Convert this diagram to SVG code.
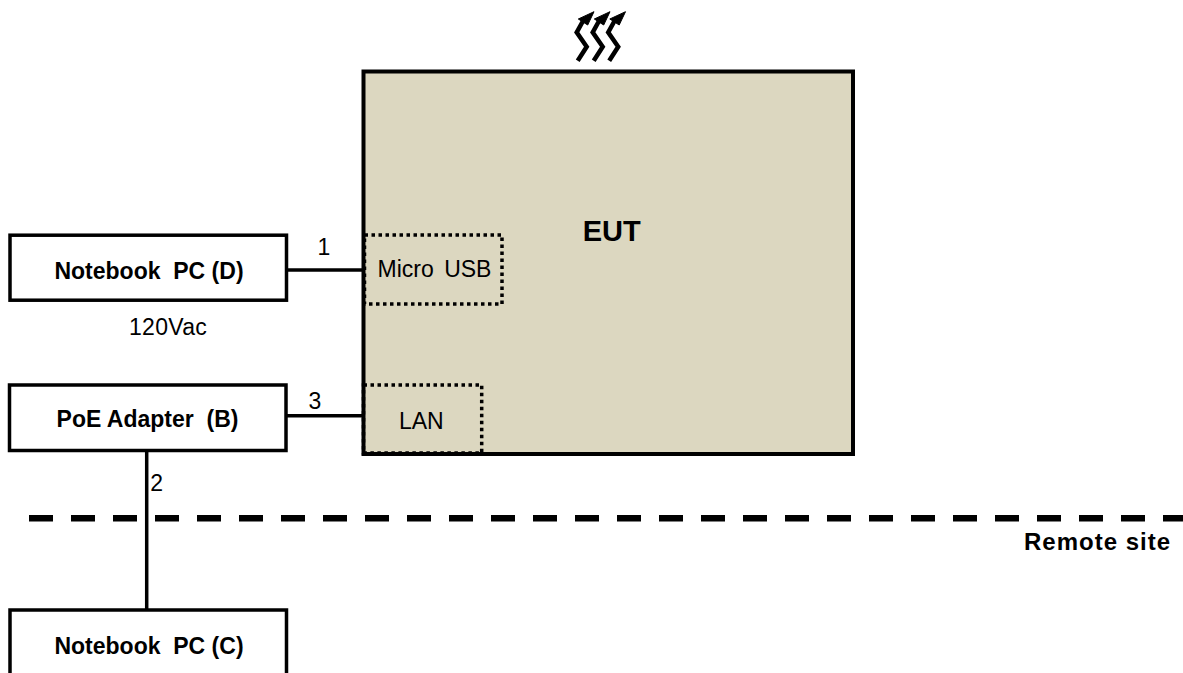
<svg xmlns="http://www.w3.org/2000/svg" width="1183" height="673" viewBox="0 0 1183 673">
<style>
text{font-family:"Liberation Sans",Arial,sans-serif;fill:#000;font-size:23px;text-anchor:middle;white-space:pre}
.b{font-weight:bold}
.box{fill:#fff;stroke:#000;stroke-width:3.500}
.dot{fill:none;stroke:#000;stroke-width:3.500;stroke-dasharray:3.500 3.500}
.ln{fill:none;stroke:#000;stroke-width:3.500}
</style>
<defs>
<g id="heat"><path d="M-.3 60.700 L8.700 46.700 L-1.300 32.300 L5 21" fill="none" stroke="#000" stroke-width="4.500"/><path d="M16 11.700 L.3 19 L9.700 25 Z" fill="#000" stroke="#000"/></g>
</defs>
<rect width="1183" height="673" fill="#fff"/>
<g id="connectors">
<path class="ln" d="M287 270H363"/>
<path class="ln" d="M287 415.700H363"/>
<path class="ln" d="M146.700 451V610"/>
</g>
<g id="boundary"><path d="M29 518.300H1183" fill="none" stroke="#000" stroke-width="6.500" stroke-dasharray="24 18"/></g>
<g id="heat-arrows"><use href="#heat" x="578"/><use href="#heat" x="594"/><use href="#heat" x="609.500"/></g>
<g id="eut"><rect x="363.500" y="71.500" width="489.500" height="382.500" fill="#dcd7c0" stroke="#000" stroke-width="4"/><text class="b" x="611.700" y="241" style="font-size:29px">EUT</text></g>
<g id="micro-usb"><rect class="dot" x="364.500" y="235" width="137.500" height="69"/><text x="434.500" y="277" style="word-spacing:4px">Micro USB</text></g>
<g id="lan"><rect class="dot" x="363.500" y="385" width="118.200" height="68"/><text x="421.300" y="429">LAN</text></g>
<g id="notebook-d"><rect class="box" x="10" y="235.200" width="276.500" height="65"/><text class="b" x="149" y="278.500">Notebook  PC (D)</text></g>
<g id="poe"><rect class="box" x="9.500" y="385" width="276.500" height="65.500"/><text class="b" x="147.500" y="427">PoE Adapter  (B)</text></g>
<g id="notebook-c"><path class="box" d="M10 673V610H286.500V673"/><text class="b" x="149" y="654">Notebook  PC (C)</text></g>
<text x="324" y="254.700">1</text>
<text x="315" y="409">3</text>
<text x="156.700" y="490.700">2</text>
<text x="129" y="335" style="text-anchor:start;letter-spacing:.3px">120Vac</text>
<text class="b" x="1024" y="550" style="text-anchor:start;font-size:24px;letter-spacing:1px">Remote site</text>
</svg>
